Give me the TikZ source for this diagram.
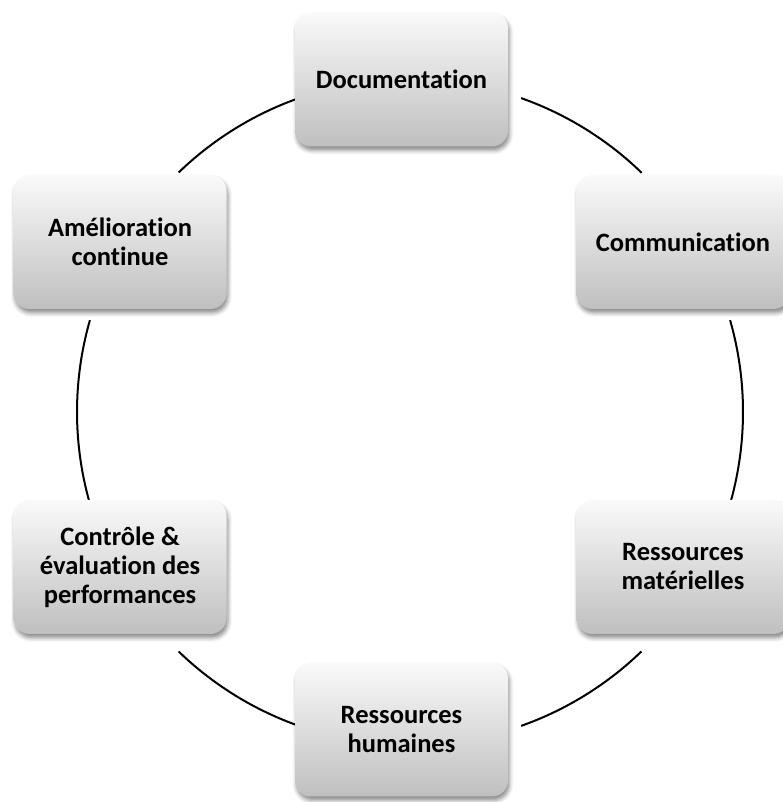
\documentclass[tikz,border=0pt]{standalone}
\usepackage{fontspec}
\setmainfont{Carlito}[RawFeature={-liga;-clig;-calt;-rlig;-dlig}]
\usetikzlibrary{shadows.blur,backgrounds,calc}
\newcommand\myti{t\kern0pt{}i}
\begin{document}
\begin{tikzpicture}[x=1pt,y=1pt,
  box/.style={rectangle, rounded corners=16pt, minimum width=213pt, minimum height=134pt,
    top color=gray!4, bottom color=gray!50, draw=none, align=center, inner sep=0pt,
    font=\fontsize{26.5}{29}\selectfont\bfseries,
    blur shadow={shadow xshift=1.5pt, shadow yshift=-4pt, shadow blur radius=4pt, shadow opacity=45}},
  link/.style={line width=2pt, black}]
\useasboundingbox (0,0) rectangle (782,802);
\coordinate (O) at (401.5,397.5);
\coordinate (C) at (410,390);
\node[box] (doc) at ($(O)+(90:325)$) {Documenta\myti on};
\node[box] (com) at ($(O)+(30:325)$) {Communication};
\node[box] (mat) at ($(O)+(-30:325)$) {Ressources\\matérielles};
\node[box] (hum) at ($(O)+(-90:325)$) {Ressources\\humaines};
\node[box] (ctl) at ($(O)+(-150:325)$) {Contrôle \&\\évalua\myti on des\\performances};
\node[box] (ame) at ($(O)+(150:325)$) {Améliora\myti on\\con\myti nue};
\coordinate (s1) at ($(C)+(70.5:333)$);
\coordinate (s2) at ($(C)+(16:333)$);
\coordinate (s3) at ($(C)+(-46:333)$);
\coordinate (s4) at ($(C)+(-109.5:333)$);
\coordinate (s5) at ($(C)+(196.5:333)$);
\coordinate (s6) at ($(C)+(134:333)$);
\begin{pgfonlayer}{background}
\draw[link] (s1) arc[start angle=70.5, end angle=45.9, radius=333pt];
\draw[link] (s2) arc[start angle=16, end angle=-15.5, radius=333pt];
\draw[link] (s3) arc[start angle=-46, end angle=-70.5, radius=333pt];
\draw[link] (s4) arc[start angle=-109.5, end angle=-134, radius=333pt];
\draw[link] (s5) arc[start angle=196.5, end angle=164, radius=333pt];
\draw[link] (s6) arc[start angle=134, end angle=109.5, radius=333pt];
\end{pgfonlayer}
\end{tikzpicture}
\end{document}
